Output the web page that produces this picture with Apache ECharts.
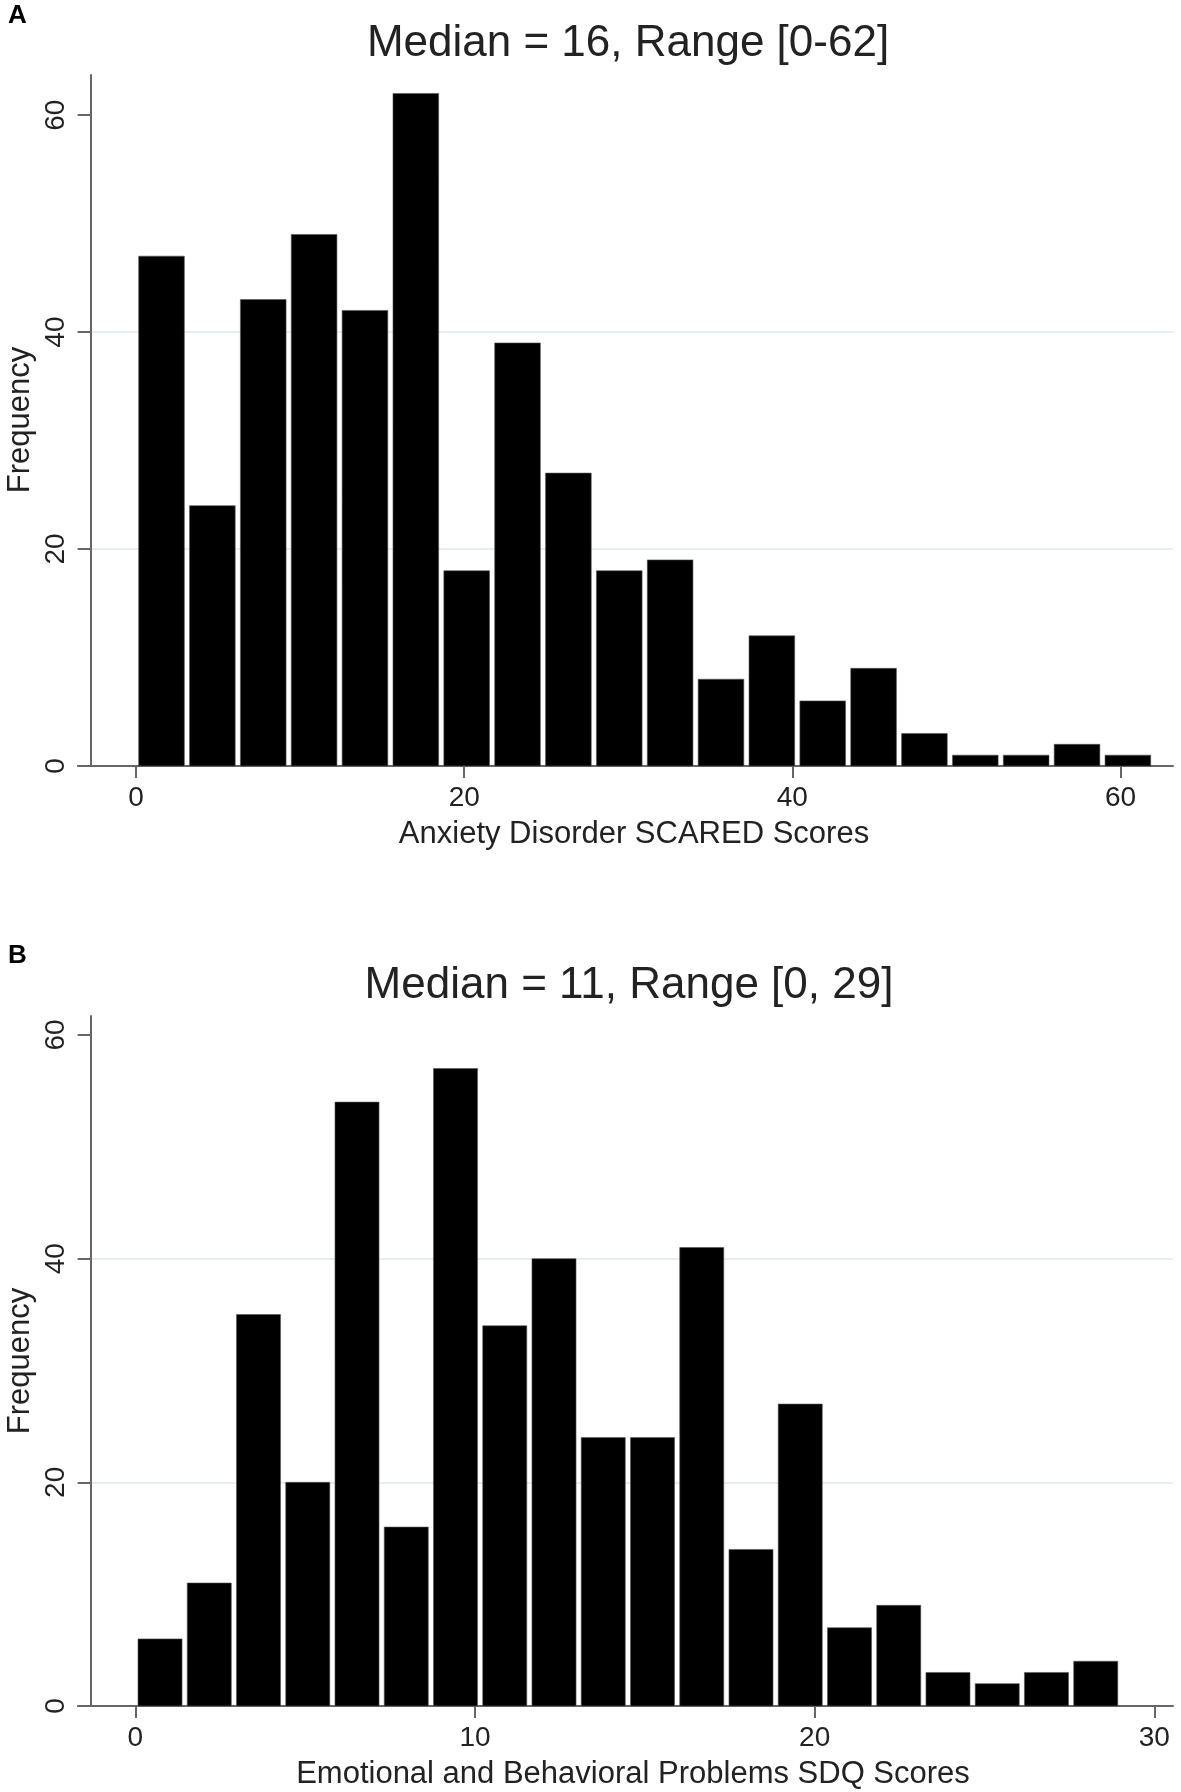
<!DOCTYPE html>
<html>
<head>
<meta charset="utf-8">
<script src="https://cdn.jsdelivr.net/npm/echarts@6/dist/echarts.min.js"></script>
<style>
html,body{margin:0;padding:0;background:#fff;}
#chart{width:1181px;height:1792px;}
</style>
</head>
<body>
<div id="chart"></div>
<script>
// Panel A: SCARED scores histogram (20 bins from 0 to 62)
const binStartA = 0;
const binWidthA = 3.1;
const countsA = [47, 24, 43, 49, 42, 62, 18, 39, 27, 18, 19, 8, 12, 6, 9, 3, 1, 1, 2, 1];
const xTicksA = [0, 20, 40, 60];
const yTicksA = [0, 20, 40, 60];
const titleA = 'Median = 16, Range [0-62]';
const xNameA = 'Anxiety Disorder SCARED Scores';

// Panel B: SDQ scores histogram (20 bins from 0 to 29)
const binStartB = 0;
const binWidthB = 1.45;
const countsB = [6, 11, 35, 20, 54, 16, 57, 34, 40, 24, 24, 41, 14, 27, 7, 9, 3, 2, 3, 4];
const xTicksB = [0, 10, 20, 30];
const yTicksB = [0, 20, 40, 60];
const titleB = 'Median = 11, Range [0, 29]';
const xNameB = 'Emotional and Behavioral Problems SDQ Scores';

const yName = 'Frequency';

function bins(start, width, counts) {
  return counts.map((c, i) => [start + i * width, start + (i + 1) * width, c]);
}

const FONT = '"Liberation Sans", Arial, Helvetica, sans-serif';
const AXC = '#666666';
const TXT = '#222222';
const GRIDC = '#e6eff0';

function xAxisCfg(gi, min, max, ticks) {
  return {
    gridIndex: gi, type: 'value', min: min, max: max,
    axisLine: { show: true, onZero: false, lineStyle: { color: AXC, width: 2 } },
    axisTick: { show: true, length: 12, lineStyle: { color: AXC, width: 2 }, customValues: ticks },
    axisLabel: { customValues: ticks, fontSize: 28, color: TXT, margin: 18, fontFamily: FONT },
    splitLine: { show: false }
  };
}
function yAxisCfg(gi, max, ticks) {
  return {
    gridIndex: gi, type: 'value', min: 0, max: max, interval: 20, offset: -12.6,
    axisLine: { show: true, onZero: false, lineStyle: { color: AXC, width: 2 } },
    axisTick: { show: true, length: 13, lineStyle: { color: AXC, width: 2 }, customValues: ticks },
    axisLabel: { customValues: ticks, fontSize: 28, color: TXT, margin: 20, rotate: 90, fontFamily: FONT },
    splitLine: { show: true, showMinLine: false, showMaxLine: false, lineStyle: { color: GRIDC, width: 2 } }
  };
}

function renderBar(params, api) {
  const p0 = api.coord([api.value(0), api.value(2)]);
  const p1 = api.coord([api.value(1), 0]);
  const gap = 2.6;
  return {
    type: 'rect',
    shape: { x: p0[0] + gap, y: p0[1], width: p1[0] - p0[0] - 2 * gap, height: p1[1] - p0[1] },
    style: { fill: '#000000', stroke: '#555555', lineWidth: 0.6 }
  };
}

function txt(text, x, y, size, extra) {
  const el = {
    type: 'text', x: x, y: y,
    style: Object.assign({ text: text, fontSize: size, fontFamily: FONT, fill: TXT, align: 'center', verticalAlign: 'middle' }, (extra && extra.style) || {})
  };
  if (extra && extra.rotation) el.rotation = extra.rotation;
  return el;
}

const chart = echarts.init(document.getElementById('chart'), null, { renderer: 'canvas' });
chart.setOption({
  animation: false,
  backgroundColor: '#ffffff',
  grid: [
    { left: 78, top: 75, width: 1095, height: 691 },
    { left: 78, top: 1016, width: 1095, height: 690 }
  ],
  xAxis: [
    xAxisCfg(0, -3.54, 63.2, xTicksA),
    xAxisCfg(1, -1.69, 30.55, xTicksB)
  ],
  yAxis: [
    yAxisCfg(0, 63.7, yTicksA),
    yAxisCfg(1, 61.7, yTicksB)
  ],
  series: [
    { type: 'custom', xAxisIndex: 0, yAxisIndex: 0, renderItem: renderBar, encode: { x: [0, 1], y: 2 }, data: bins(binStartA, binWidthA, countsA) },
    { type: 'custom', xAxisIndex: 1, yAxisIndex: 1, renderItem: renderBar, encode: { x: [0, 1], y: 2 }, data: bins(binStartB, binWidthB, countsB) }
  ],
  graphic: [
    txt('A', 17.5, 16, 26, { style: { fontWeight: 'bold', fill: '#000' } }),
    txt('B', 17.5, 956, 26, { style: { fontWeight: 'bold', fill: '#000' } }),
    txt(titleA, 628, 44, 44),
    txt(titleB, 629, 986, 44),
    txt(xNameA, 634, 834, 31),
    txt(xNameB, 633, 1774, 31),
    txt(yName, 20, 420, 31, { rotation: Math.PI / 2 }),
    txt(yName, 20, 1361, 31, { rotation: Math.PI / 2 })
  ]
});
</script>
</body>
</html>
